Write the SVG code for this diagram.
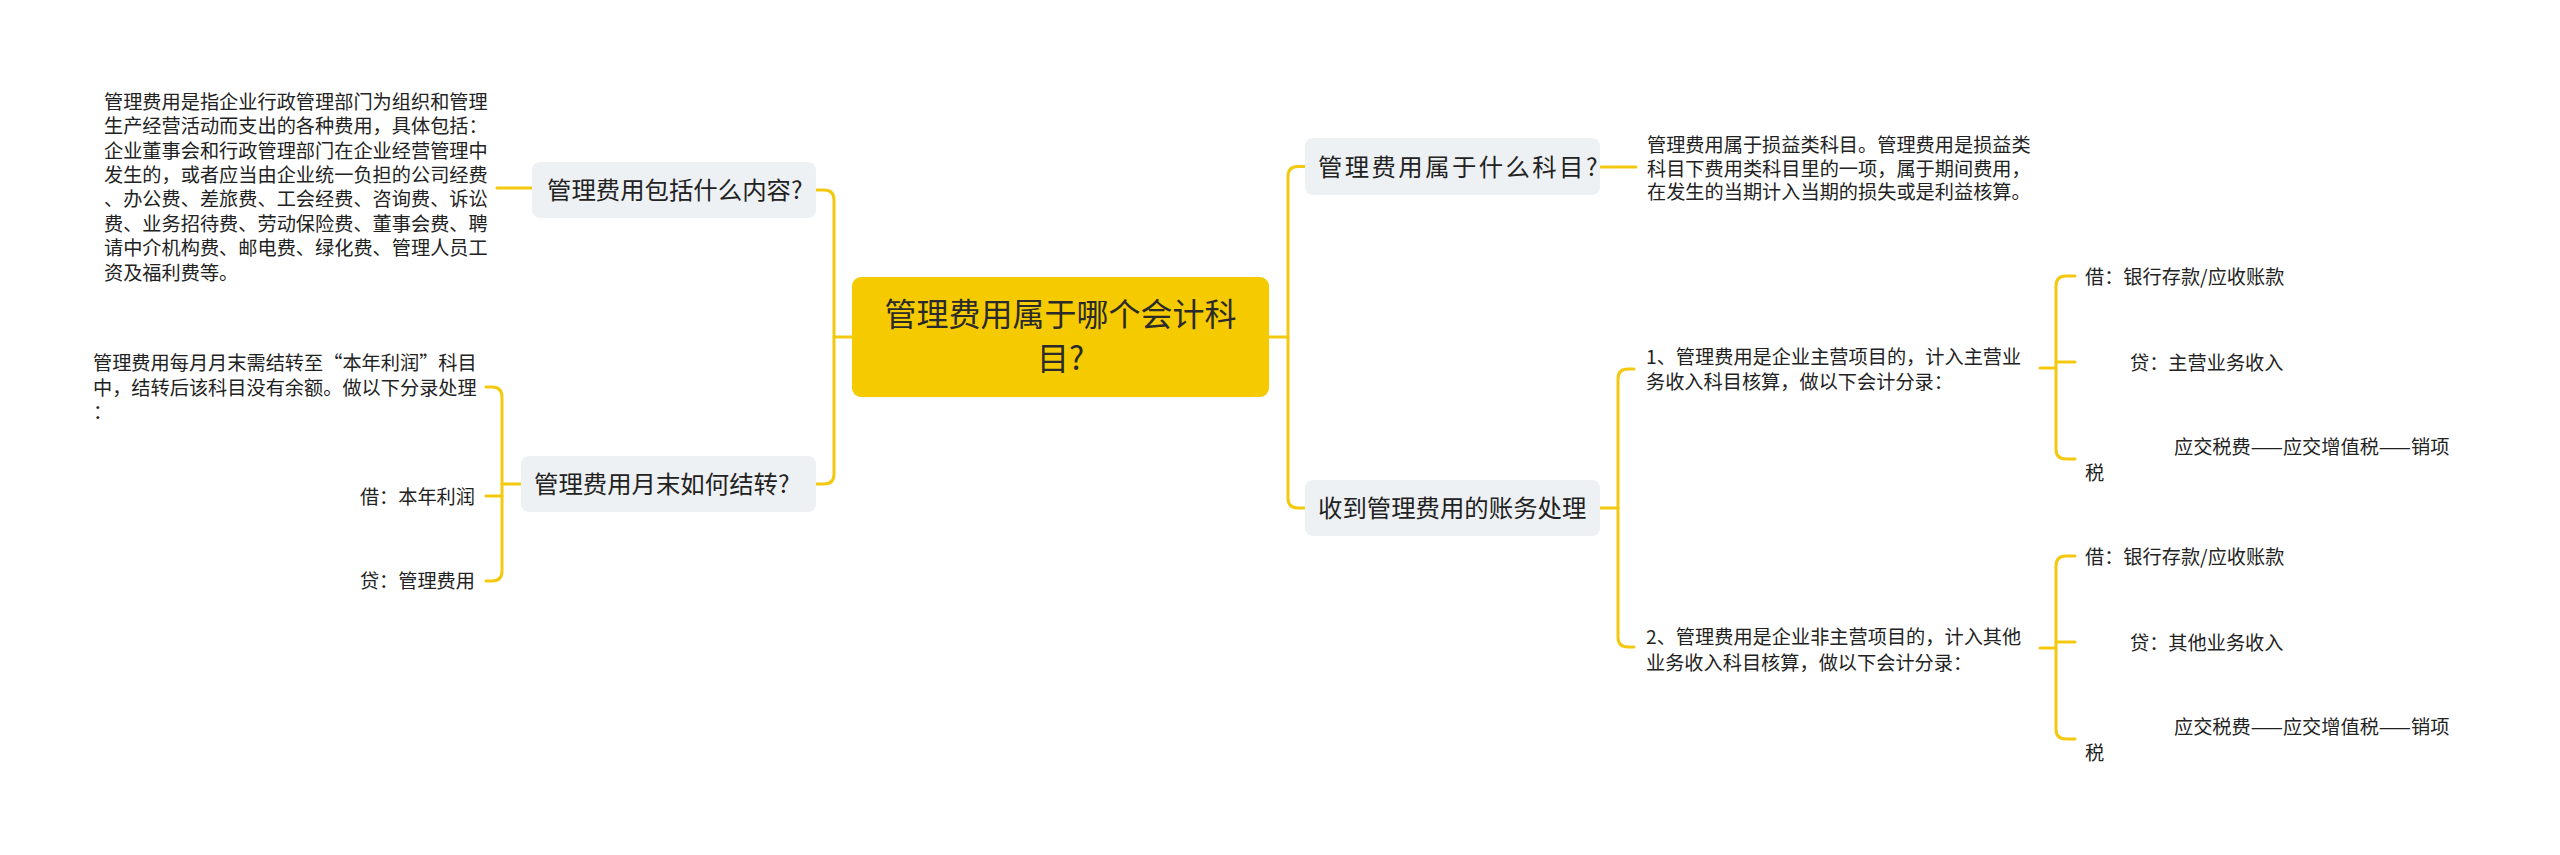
<svg xmlns="http://www.w3.org/2000/svg" width="2560" height="855" viewBox="0 0 2560 855">
<style>
text { font-family: "Noto Sans CJK SC", "Noto Sans", sans-serif; fill: #222; }
.root { font-size: 32px; fill: #2a2a2a; }
.l1 { font-size: 24.4px; fill: #222; }
.leaf { font-size: 19.2px; fill: #222; }
.box { fill: #EEF1F4; }
.rootbox { fill: #F5CB00; }
.conn { fill: none; stroke: #F3C910; stroke-width: 3; stroke-linecap: round; stroke-linejoin: round; }
</style>
<rect width="2560" height="855" fill="#ffffff"/>
<g id="connectors">
  <path class="conn" d="M852,337 H834"/>
  <path class="conn" d="M816,190 H824 Q834,190 834,200 V474 Q834,484 824,484 H816"/>
  <path class="conn" d="M1269,337 H1288"/>
  <path class="conn" d="M1305,166.5 H1298 Q1288,166.5 1288,176.5 V498 Q1288,508 1298,508 H1305"/>
  <path class="conn" d="M532,188 H497"/>
  <path class="conn" d="M521,484 H502"/>
  <path class="conn" d="M486,387 H492 Q502,387 502,397 V571 Q502,581 492,581 H486"/>
  <path class="conn" d="M502,496 H486"/>
  <path class="conn" d="M1601,167 H1636"/>
  <path class="conn" d="M1600,508 H1618"/>
  <path class="conn" d="M1634,369 H1628 Q1618,369 1618,379 V637 Q1618,647 1628,647 H1634"/>
  <path class="conn" d="M2040,368 H2056"/>
  <path class="conn" d="M2075,276 H2066 Q2056,276 2056,286 V449 Q2056,459 2066,459 H2075"/>
  <path class="conn" d="M2056,362 H2075"/>
  <path class="conn" d="M2040,648 H2056"/>
  <path class="conn" d="M2075,556 H2066 Q2056,556 2056,566 V729 Q2056,739 2066,739 H2075"/>
  <path class="conn" d="M2056,642 H2075"/>
</g>
<g id="root">
  <rect class="rootbox" x="852" y="277" width="417" height="120" rx="9"/>
  <text class="root" x="1060.5" y="325.5" text-anchor="middle">管理费用属于哪个会计科</text>
  <text class="root" x="1060.5" y="370" text-anchor="middle">目?</text>
</g>
<g id="n-content">
  <rect class="box" x="532" y="162" width="284" height="56" rx="8"/>
  <text class="l1" x="547" y="199">管理费用包括什么内容?</text>
</g>
<g id="n-content-leaf">
  <text class="leaf" x="104" y="108.7">管理费用是指企业行政管理部门为组织和管理</text>
  <text class="leaf" x="104" y="133.1">生产经营活动而支出的各种费用，具体包括：</text>
  <text class="leaf" x="104" y="157.5">企业董事会和行政管理部门在企业经营管理中</text>
  <text class="leaf" x="104" y="181.9">发生的，或者应当由企业统一负担的公司经费</text>
  <text class="leaf" x="104" y="206.3">、办公费、差旅费、工会经费、咨询费、诉讼</text>
  <text class="leaf" x="104" y="230.7">费、业务招待费、劳动保险费、董事会费、聘</text>
  <text class="leaf" x="104" y="255.1">请中介机构费、邮电费、绿化费、管理人员工</text>
  <text class="leaf" x="104" y="279.5">资及福利费等。</text>
</g>
<g id="n-monthend">
  <rect class="box" x="521" y="456" width="295" height="56" rx="8"/>
  <text class="l1" x="534" y="493">管理费用月末如何结转?</text>
</g>
<g id="n-monthend-desc">
  <text class="leaf" x="93" y="370">管理费用每月月末需结转至“本年利润”科目</text>
  <text class="leaf" x="93" y="394.5">中，结转后该科目没有余额。做以下分录处理</text>
  <text class="leaf" x="93" y="419">：</text>
</g>
<g id="n-monthend-debit">
  <text class="leaf" x="475" y="504" text-anchor="end">借：本年利润</text>
</g>
<g id="n-monthend-credit">
  <text class="leaf" x="475" y="588" text-anchor="end">贷：管理费用</text>
</g>
<g id="n-subject">
  <rect class="box" x="1305" y="138" width="295" height="57" rx="8"/>
  <text class="l1" x="1318" y="175.5" letter-spacing="2.4">管理费用属于什么科目?</text>
</g>
<g id="n-subject-leaf">
  <text class="leaf" x="1647" y="152">管理费用属于损益类科目。管理费用是损益类</text>
  <text class="leaf" x="1647" y="175.5">科目下费用类科目里的一项，属于期间费用，</text>
  <text class="leaf" x="1647" y="199">在发生的当期计入当期的损失或是利益核算。</text>
</g>
<g id="n-receive">
  <rect class="box" x="1305" y="480" width="295" height="56" rx="8"/>
  <text class="l1" x="1318" y="517">收到管理费用的账务处理</text>
</g>
<g id="n-main">
  <text class="leaf" x="1646" y="364">1、管理费用是企业主营项目的，计入主营业</text>
  <text class="leaf" x="1646" y="389">务收入科目核算，做以下会计分录：</text>
</g>
<g id="n-main-debit">
  <text class="leaf" x="2085" y="284">借：银行存款/应收账款</text>
</g>
<g id="n-main-credit">
  <text class="leaf" x="2130" y="370">贷：主营业务收入</text>
</g>
<g id="n-main-tax">
  <text class="leaf" x="2174" y="454">应交税费——应交增值税——销项</text>
  <text class="leaf" x="2085" y="480">税</text>
</g>
<g id="n-other">
  <text class="leaf" x="1646" y="644">2、管理费用是企业非主营项目的，计入其他</text>
  <text class="leaf" x="1646" y="670">业务收入科目核算，做以下会计分录：</text>
</g>
<g id="n-other-debit">
  <text class="leaf" x="2085" y="564">借：银行存款/应收账款</text>
</g>
<g id="n-other-credit">
  <text class="leaf" x="2130" y="650">贷：其他业务收入</text>
</g>
<g id="n-other-tax">
  <text class="leaf" x="2174" y="734">应交税费——应交增值税——销项</text>
  <text class="leaf" x="2085" y="760">税</text>
</g>
</svg>
